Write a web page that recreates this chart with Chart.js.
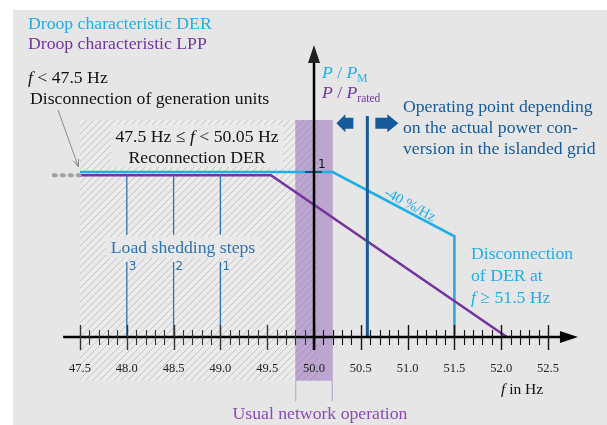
<!DOCTYPE html>
<html><head><meta charset="utf-8">
<script src="https://cdn.jsdelivr.net/npm/chart.js@4"></script>
<style>html,body{margin:0;padding:0;background:#fff}#wrap{width:607px;height:425px;position:relative}</style>
</head><body><div id="wrap"><canvas id="c"></canvas></div>
<script>
// ---- data ----
const tickLabels = ['47.5','48.0','48.5','49.0','49.5','50.0','50.5','51.0','51.5','52.0','52.5'];
const majorTicks = [47.5,48.0,48.5,49.0,49.5,50.0,50.5,51.0,51.5,52.0,52.5];
const derF = [47.5, 50.2, 51.5, 51.5];
const derP = [1.0, 1.0, 0.61, 0.0];
const lppF = [47.5, 49.54, 52.06];
const lppP = [0.98, 0.98, 0.0];
const sheddingF = [48.0, 48.5, 49.0];
const sheddingLabels = ['3','2','1'];
const operatingF = 50.57;
const bandRange = [49.8, 50.2];      // usual network operation
const hatchRange = [47.5, 50.05];    // reconnection DER
const disconnectedF = [47.22, 47.5];

const CYAN = '#1eaee9', PURPLE = '#7434a0', BLUE = '#155b9b', LBLUE = '#2f72b3';
const SERIF = '"Liberation Serif", "Times New Roman", serif';
const FS = 17.7;

const pts = (xs, ys) => xs.map((x, i) => ({x, y: ys[i]}));
const sheddingSets = sheddingF.map(f => ({
  data: [{x:f,y:0.98},{x:f,y:0.62},{x:f,y:null},{x:f,y:0.455},{x:f,y:0}],
  borderColor: LBLUE, borderWidth: 1.3, spanGaps: false
}));

const deco = {
  id: 'deco',
  beforeDatasetsDraw(chart) {
    const ctx = chart.ctx, X = chart.scales.x, Y = chart.scales.y;
    const px = v => X.getPixelForValue(v), py = v => Y.getPixelForValue(v);
    ctx.save();
    ctx.fillStyle = '#ffffff'; ctx.fillRect(0,0,chart.width,chart.height);
    ctx.fillStyle = '#e6e6e6'; ctx.fillRect(13,10,chart.width-13,chart.height-10);
    const top = py(1.315), bot = py(-0.265);
    const hx0 = px(hatchRange[0]), hx1 = px(hatchRange[1]);
    ctx.fillStyle = '#ebebeb'; ctx.fillRect(hx0, top, hx1-hx0, bot-top);
    const bx0 = px(bandRange[0]), bx1 = px(bandRange[1]);
    ctx.fillStyle = '#bca6cf'; ctx.fillRect(bx0, top, bx1-bx0, bot-top);
    ctx.strokeStyle = '#b59dca'; ctx.lineWidth = 1;
    ctx.beginPath();
    ctx.moveTo(bx0+0.5, bot); ctx.lineTo(bx0+0.5, py(-0.39));
    ctx.moveTo(bx1-0.5, bot); ctx.lineTo(bx1-0.5, py(-0.39));
    ctx.stroke();
    ctx.save();
    ctx.beginPath(); ctx.rect(hx0, top, hx1-hx0, bot-top); ctx.clip();
    ctx.lineWidth = 1;
    for (let s = hx0 - (bot-top); s < hx1 + 10; s += 7) {
      ctx.beginPath();
      ctx.moveTo(s, bot); ctx.lineTo(s + (bot-top), top);
      ctx.strokeStyle = '#c6c6c6'; ctx.stroke();
    }
    ctx.save();
    ctx.beginPath(); ctx.rect(bx0, top, bx1-bx0, bot-top); ctx.clip();
    for (let s = hx0 - (bot-top); s < hx1 + 10; s += 7) {
      ctx.beginPath();
      ctx.moveTo(s, bot); ctx.lineTo(s + (bot-top), top);
      ctx.strokeStyle = '#ab92c2'; ctx.stroke();
    }
    ctx.restore();
    ctx.restore();
    ctx.fillStyle = '#e8e8e8';
    ctx.fillRect(111, 125, 172, 42);
    ctx.fillRect(106, 237, 154, 21);
    ctx.restore();
  },
  afterDatasetsDraw(chart) {
    const ctx = chart.ctx, X = chart.scales.x, Y = chart.scales.y;
    const px = v => X.getPixelForValue(v), py = v => Y.getPixelForValue(v);
    ctx.save();
    const y0 = py(0), x50 = px(50);
    ctx.strokeStyle = '#000'; ctx.lineWidth = 2.5;
    ctx.beginPath(); ctx.moveTo(px(47.32), y0); ctx.lineTo(px(52.67), y0); ctx.stroke();
    ctx.fillStyle = '#000';
    const xt = px(52.82);
    ctx.beginPath(); ctx.moveTo(xt, y0); ctx.lineTo(xt-18, y0-6); ctx.lineTo(xt-18, y0+6); ctx.closePath(); ctx.fill();
    for (let i = 0; i <= 50; i++) {
      const v = 47.5 + i*0.1, x = Math.round(px(v)) + 0.5;
      const major = i % 5 === 0;
      ctx.strokeStyle = (v < 50.0 && v > 47.49) ? '#333' : '#111';
      ctx.lineWidth = major ? 1.4 : 1.1;
      ctx.beginPath();
      if (major) { ctx.moveTo(x, y0-12); ctx.lineTo(x, y0+13); }
      else { ctx.moveTo(x, y0-7); ctx.lineTo(x, y0+8); }
      ctx.stroke();
    }
    ctx.font = '12.5px ' + SERIF; ctx.fillStyle = '#222';
    ctx.textAlign = 'center'; ctx.textBaseline = 'middle';
    majorTicks.forEach((v, i) => ctx.fillText(tickLabels[i], px(v), y0 + 32));
    ctx.strokeStyle = '#000'; ctx.lineWidth = 2.5;
    ctx.beginPath(); ctx.moveTo(x50, y0+13); ctx.lineTo(x50, py(1.66)); ctx.stroke();
    const yt = py(1.77);
    ctx.beginPath(); ctx.moveTo(x50, yt); ctx.lineTo(x50-6, yt+18); ctx.lineTo(x50+6, yt+18); ctx.closePath(); ctx.fill();
    ctx.lineWidth = 1; ctx.beginPath(); ctx.moveTo(x50-9, py(1)); ctx.lineTo(x50+8, py(1)); ctx.stroke();
    ctx.font = '12px "DejaVu Sans", sans-serif'; ctx.fillStyle = '#111'; ctx.textAlign = 'left';
    ctx.fillText('1', x50+4, py(1)-7);
    ctx.fillStyle = LBLUE;
    sheddingF.forEach((f, i) => ctx.fillText(sheddingLabels[i], px(f)+2, py(0.425)));

    function runs(x, y, parts, align) {
      let w = 0;
      parts.forEach(p => { ctx.font = p.f; p.w = ctx.measureText(p.t).width; w += p.w; });
      let cx = align === 'center' ? x - w/2 : (align === 'right' ? x - w : x);
      ctx.textAlign = 'left'; ctx.textBaseline = 'alphabetic';
      parts.forEach(p => { ctx.font = p.f; ctx.fillStyle = p.c; ctx.fillText(p.t, cx, y + (p.dy||0)); cx += p.w; });
    }
    const R = s => s + 'px ' + SERIF, I = s => 'italic ' + s + 'px ' + SERIF;
    runs(28, 29, [{t:'Droop characteristic DER', f:R(FS), c:CYAN}]);
    runs(28, 49, [{t:'Droop characteristic LPP', f:R(FS), c:PURPLE}]);
    runs(28, 83, [{t:'f', f:I(FS), c:'#111'},{t:' < 47.5 Hz', f:R(FS), c:'#111'}]);
    runs(30, 104, [{t:'Disconnection of generation units', f:R(FS), c:'#111'}]);
    runs(197, 142, [{t:'47.5 Hz \u2264 ', f:R(FS), c:'#111'},{t:'f', f:I(FS), c:'#111'},{t:' < 50.05 Hz', f:R(FS), c:'#111'}], 'center');
    runs(197, 163, [{t:'Reconnection DER', f:R(FS), c:'#111'}], 'center');
    runs(183, 253, [{t:'Load shedding steps', f:R(FS), c:LBLUE}], 'center');
    runs(322, 78, [{t:'P', f:I(FS), c:CYAN},{t:' / ', f:R(FS), c:CYAN},{t:'P', f:I(FS), c:CYAN},{t:'M', f:R(11.5), c:CYAN, dy:4}]);
    runs(322, 98, [{t:'P', f:I(FS), c:PURPLE},{t:' / ', f:R(FS), c:PURPLE},{t:'P', f:I(FS), c:PURPLE},{t:'rated', f:R(11.5), c:PURPLE, dy:4}]);
    runs(403, 112, [{t:'Operating point depending', f:R(FS), c:BLUE}]);
    runs(403, 133, [{t:'on the actual power con-', f:R(FS), c:BLUE}]);
    runs(403, 154, [{t:'version in the islanded grid', f:R(FS), c:BLUE}]);
    runs(471, 259, [{t:'Disconnection', f:R(FS), c:CYAN}]);
    runs(471, 281, [{t:'of DER at', f:R(FS), c:CYAN}]);
    runs(471, 303, [{t:'f', f:I(FS), c:CYAN},{t:' \u2265 51.5 Hz', f:R(FS), c:CYAN}]);
    runs(320, 419, [{t:'Usual network operation', f:R(FS), c:'#8a4bb5'}], 'center');
    runs(501, 394, [{t:'f', f:I(15.5), c:'#111'},{t:' in Hz', f:R(15.5), c:'#111'}]);
    ctx.save();
    ctx.translate(410, 205); ctx.rotate(28.5 * Math.PI/180);
    runs(0, 4, [{t:'-40 %/Hz', f:R(14.5), c:CYAN}], 'center');
    ctx.restore();

    const ox = px(operatingF), ay = py(1.295);
    ctx.fillStyle = BLUE;
    ctx.beginPath();
    ctx.moveTo(ox-31, ay); ctx.lineTo(ox-22, ay-9); ctx.lineTo(ox-22, ay-5.5); ctx.lineTo(ox-14, ay-5.5);
    ctx.lineTo(ox-14, ay+5.5); ctx.lineTo(ox-22, ay+5.5); ctx.lineTo(ox-22, ay+9); ctx.closePath(); ctx.fill();
    ctx.beginPath();
    ctx.moveTo(ox+31, ay); ctx.lineTo(ox+20, ay-9); ctx.lineTo(ox+20, ay-5.5); ctx.lineTo(ox+8, ay-5.5);
    ctx.lineTo(ox+8, ay+5.5); ctx.lineTo(ox+20, ay+5.5); ctx.lineTo(ox+20, ay+9); ctx.closePath(); ctx.fill();

    ctx.strokeStyle = '#8c8c8c'; ctx.lineWidth = 1;
    const ax0 = 58, ay0 = 110, ax1 = 78.5, ay1 = 167;
    ctx.beginPath(); ctx.moveTo(ax0, ay0); ctx.lineTo(ax1, ay1); ctx.stroke();
    const ang = Math.atan2(ay1-ay0, ax1-ax0);
    ctx.beginPath();
    ctx.moveTo(ax1, ay1);
    ctx.lineTo(ax1 - 8*Math.cos(ang-0.35), ay1 - 8*Math.sin(ang-0.35));
    ctx.moveTo(ax1, ay1);
    ctx.lineTo(ax1 - 8*Math.cos(ang+0.35), ay1 - 8*Math.sin(ang+0.35));
    ctx.stroke();
    ctx.restore();
  }
};

new Chart(document.getElementById('c'), {
  type: 'scatter',
  data: {
    datasets: [
      ...sheddingSets,
      { data: [{x:operatingF,y:1.34},{x:operatingF,y:0}], borderColor: BLUE, borderWidth: 3 },
      { data: pts(disconnectedF, [0.98,0.98]), borderColor: '#a0a0a0', borderWidth: 4, borderDash: [2,6], borderCapStyle: 'round' },
      { data: pts(lppF, lppP), borderColor: PURPLE, borderWidth: 2.6 },
      { data: pts(derF, derP), borderColor: CYAN, borderWidth: 2.6 }
    ].map(d => Object.assign({showLine: true, pointRadius: 0, pointHoverRadius: 0, fill: false, tension: 0, clip: false}, d))
  },
  options: {
    responsive: true, maintainAspectRatio: false, animation: false,
    layout: { padding: 0 },
    plugins: { legend: { display: false }, tooltip: { enabled: false } },
    events: [],
    scales: {
      x: { type: 'linear', display: false, min: 46.6453, max: 53.1303 },
      y: { type: 'linear', display: false, min: -0.53333, max: 2.04242 }
    }
  },
  plugins: [deco]
});
</script></body></html>
